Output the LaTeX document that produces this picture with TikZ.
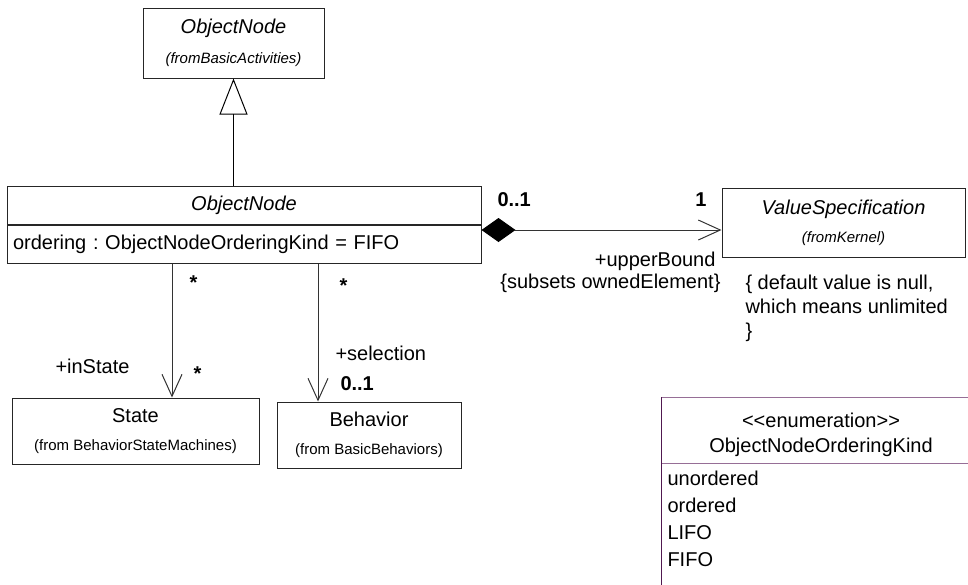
\documentclass[tikz,border=0pt]{standalone}
\usepackage{fontspec}
\setmainfont{Liberation Sans}
\usetikzlibrary{arrows.meta,positioning}
\frenchspacing

\definecolor{enumframe}{RGB}{150,110,150}
\definecolor{enumedge}{RGB}{80,25,80}
\newcommand{\fromfont}{\fontsize{7.5}{9}\selectfont}

\begin{document}
\begin{tikzpicture}[x=0.5pt,y=-0.5pt,font=\fontsize{10}{14}\selectfont,line width=0.5pt,
  cls/.style={draw=black!85,inner sep=0pt,align=center},
  lbl/.style={inner sep=0pt},
  assoc/.style={draw=black!80,-{Straight Barb[length=11pt,width=10pt]}},
  compo/.style={draw=black!80,{Diamond[length=17pt,width=12pt,black]}-{Straight Barb[length=11pt,width=10pt]}},
  gen/.style={-{Triangle[open,length=18pt,width=14pt]}}]
  \useasboundingbox (0,0) rectangle (968,584);
  \clip (0,0) rectangle (968,584);

  % classes
  \node[cls,minimum width=90.5pt,minimum height=35pt] (parent) at (233.5,43) {\textit{ObjectNode}\\[1pt]{\fromfont\textit{(fromBasicActivities)}}};
  \node[cls,minimum width=237pt,minimum height=19pt] (objname) at (244,205) {\textit{ObjectNode}};
  \node[cls,minimum width=237pt,minimum height=19pt,text width=231pt,align=left,anchor=north] (objattr) at (objname.south) {ordering : ObjectNodeOrderingKind = FIFO};
  \node[cls,minimum width=121.5pt,minimum height=34.5pt] (valspec) at (843.5,222.5) {\textit{ValueSpecification}\\{\fromfont\textit{(fromKernel)}}};
  \node[cls,minimum width=123.5pt,minimum height=33pt] (state) at (135.5,431) {State\\{\fromfont(from BehaviorStateMachines)}};
  \node[cls,minimum width=92pt,minimum height=33pt] (behavior) at (369,435) {Behavior\\{\fromfont(from BasicBehaviors)}};

  % enumeration, runs off the right and bottom
  \node[inner sep=0pt,minimum width=160pt,minimum height=32.5pt,anchor=north west] (enumhead) at (661,397) {};
  \draw[enumframe] (enumhead.north west) -- (enumhead.north east);
  \draw[enumframe] (enumhead.south west) -- (enumhead.south east);
  \draw[enumedge] (enumhead.north west) -- ++(0,200);
  \node[lbl,anchor=base] (stereo) at (821,427) {<{}<enumeration>{}>};
  \node[lbl,anchor=base] (enumname) at (821,452) {ObjectNodeOrderingKind};
  \foreach \lit [count=\i] in {unordered,ordered,LIFO,FIFO}
    \node[lbl,anchor=base west] (lit\i) at (667,458+27*\i) {\lit};

  % generalization and associations
  \draw[gen] (objname.north -| parent.south) -- (parent.south);
  \coordinate (upper) at (0,230);
  \draw[compo] (objname.east |- upper) -- (valspec.west |- upper);
  \coordinate (instate) at (172,0);
  \coordinate (selx) at (318,0);
  \draw[assoc] (objattr.south -| instate) -- (state.north -| instate);
  \draw[assoc] (objattr.south -| selx) -- (behavior.north -| selx);

  % ends
  \node[lbl,anchor=base west] (mlow) at (497,206) {\textbf{0..1}};
  \node[lbl,anchor=base east] (mup) at (707,206) {\textbf{1}};
  \node[lbl,anchor=base east] (roleup) at (716,266) {+upperBound};
  \node[lbl,anchor=base east] (subsets) at (721,288) {\{subsets ownedElement\}};
  \node[lbl,anchor=north west,align=left,font=\fontsize{10}{12}\selectfont] (note) at (745,274) {\{ default value is null,\\which means unlimited\\\}};
  \node[lbl,anchor=base west] (mstate) at (189,289) {\textbf{*}};
  \node[lbl,anchor=base west] (msel) at (339,292) {\textbf{*}};
  \node[lbl,anchor=base west] (rolestate) at (55,373) {+inState};
  \node[lbl,anchor=base west] (mstate2) at (193,380) {\textbf{*}};
  \node[lbl,anchor=base west] (rolesel) at (335,360) {+selection};
  \node[lbl,anchor=base west] (msel2) at (340,390) {\textbf{0..1}};
\end{tikzpicture}
\end{document}
